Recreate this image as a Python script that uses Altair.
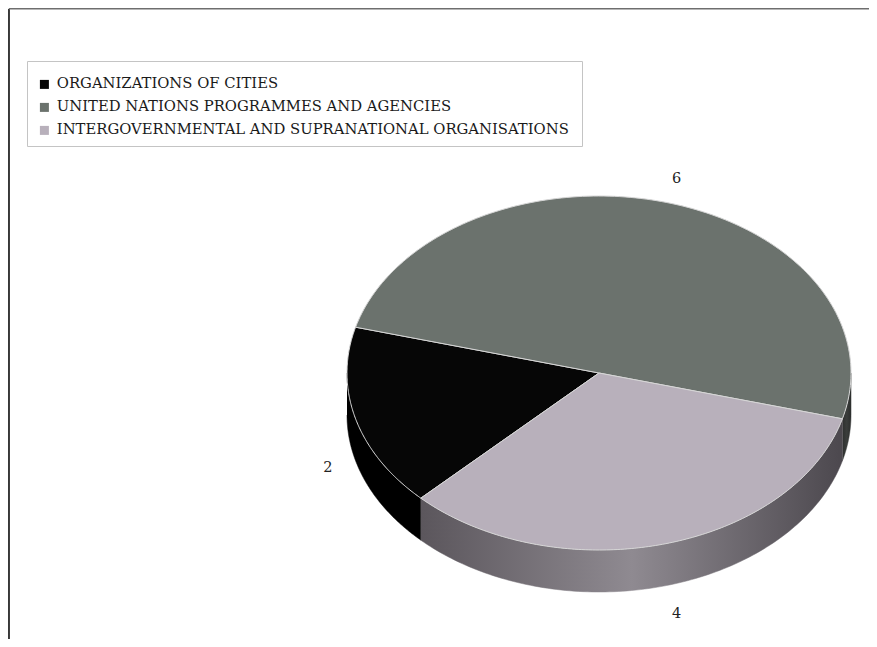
import altair as alt
import pandas as pd
import numpy as np

# ---- data ----
categories = [
    "ORGANIZATIONS OF CITIES",
    "UNITED NATIONS PROGRAMMES AND AGENCIES",
    "INTERGOVERNMENTAL AND SUPRANATIONAL ORGANISATIONS",
]
values = [2, 6, 4]
label_texts = ["2", "6", "4"]
top_colors = ["#060606", "#6b726d", "#b8b0bb"]
side_gradients = [
    ["#000000", "#000000", "#000000"],
    ["#2e302f", "#3a3d3b", "#2c2e2d"],
    ["#5b565c", "#8f8a91", "#4c484e"],
]

# ---- layout (page pixel space) ----
W, H = 861, 631
CX, CY, RX, RY, DEPTH = 599, 373, 252, 177, 42
START = 225.0
LAB_R = 1.13
FONT = "DejaVu Serif"

total = sum(values)
top_rows, side_rows, lab_rows = [], [], []
cum = 0
for k, (cat, v, lab) in enumerate(zip(categories, values, label_texts)):
    a1 = START - 360.0 * cum / total
    a2 = START - 360.0 * (cum + v) / total
    cum += v
    th = np.radians(np.linspace(a1, a2, 150))
    pts = [(CX, CY)] + [(CX + RX * np.cos(t), CY - RY * np.sin(t)) for t in th] + [(CX, CY)]
    for i, (x, y) in enumerate(pts):
        top_rows.append({"cat": cat, "i": i, "x": x, "y": y})
    # visible side: where sin < 0
    lo_d, hi_d = min(a1, a2), max(a1, a2)
    for s0, s1 in [(-180.0, 0.0), (180.0, 360.0)]:
        lo, hi = max(lo_d, s0), min(hi_d, s1)
        if hi - lo > 0.01:
            ts = np.radians(np.linspace(lo, hi, 120))
            up = [(CX + RX * np.cos(t), CY - RY * np.sin(t)) for t in ts]
            dn = [(CX + RX * np.cos(t), CY - RY * np.sin(t) + DEPTH) for t in ts[::-1]]
            for i, (x, y) in enumerate(up + dn):
                side_rows.append({"k": k, "i": i, "x": x, "y": y})
    mid = np.radians((a1 + a2) / 2)
    s = np.sin(mid)
    lx = CX + LAB_R * RX * np.cos(mid) + 4
    ly = CY - LAB_R * RY * s + (DEPTH - 6 * s if s < 0 else -1)
    lab_rows.append({"t": lab, "x": lx, "y": ly})

top_df = pd.DataFrame(top_rows)
side_df = pd.DataFrame(side_rows)
lab_df = pd.DataFrame(lab_rows)

xs = alt.Scale(domain=[8, 8 + W], range=[0, W], nice=False, zero=False)
ys = alt.Scale(domain=[8, 8 + H], range=[0, H], nice=False, zero=False)
X = lambda f: alt.X(f, type="quantitative", scale=xs, axis=None)
Y = lambda f: alt.Y(f, type="quantitative", scale=ys, axis=None)

layers = []

# frame lines
frame_v = alt.Chart(pd.DataFrame({"x": [9], "y": [9], "y2": [647]})).mark_rule(
    color="#000000", strokeWidth=1.5
).encode(x=X("x"), y=Y("y"), y2="y2")
frame_h = alt.Chart(pd.DataFrame({"x": [9], "x2": [877], "y": [8.5]})).mark_rule(
    color="#6e6e6e", strokeWidth=2
).encode(x=X("x"), x2="x2", y=Y("y"))
layers += [frame_v, frame_h]

# legend box
box = alt.Chart(pd.DataFrame({"x": [27.5], "x2": [582.5], "y": [61.5], "y2": [146.5]})).mark_rect(
    fill="#ffffff", stroke="#c4c4c4", strokeWidth=1
).encode(x=X("x"), x2="x2", y=Y("y"), y2="y2")
layers.append(box)

# sides
for k in sorted(side_df["k"].unique()):
    g = side_gradients[k]
    grad = alt.Gradient(
        gradient="linear", x1=0, x2=1, y1=0, y2=0,
        stops=[alt.GradientStop(offset=0, color=g[0]),
               alt.GradientStop(offset=0.5, color=g[1]),
               alt.GradientStop(offset=1, color=g[2])],
    )
    layers.append(
        alt.Chart(side_df[side_df["k"] == k]).mark_line(
            fill=grad, stroke=grad, strokeWidth=0.5, interpolate="linear"
        ).encode(x=X("x"), y=Y("y"), order="i:Q")
    )

# top faces
top = alt.Chart(top_df).mark_line(stroke="#d6d6d6", strokeWidth=1, strokeJoin="round").encode(
    x=X("x"), y=Y("y"), order="i:Q", detail="cat:N",
    fill=alt.Fill("cat:N", scale=alt.Scale(domain=categories, range=top_colors),
                  legend=alt.Legend(title=None, orient="none", legendX=29, legendY=69,
                                    symbolType="square", symbolSize=81, symbolStrokeWidth=0,
                                    labelFont=FONT, labelFontSize=14.8, labelColor="#1a1a1a",
                                    labelOffset=5, rowPadding=7, labelLimit=600, padding=0)),
)
layers.append(top)

labels = alt.Chart(lab_df).mark_text(font=FONT, fontSize=14.5, color="#222222").encode(
    x=X("x"), y=Y("y"), text="t:N"
)
layers.append(labels)

chart = alt.layer(*layers).properties(
    width=W, height=H, autosize=alt.AutoSizeParams(type="none"), padding=0
).configure_view(stroke=None).configure(background="#ffffff")

chart.save("out.html", embed_options={"renderer": "svg", "actions": False})
